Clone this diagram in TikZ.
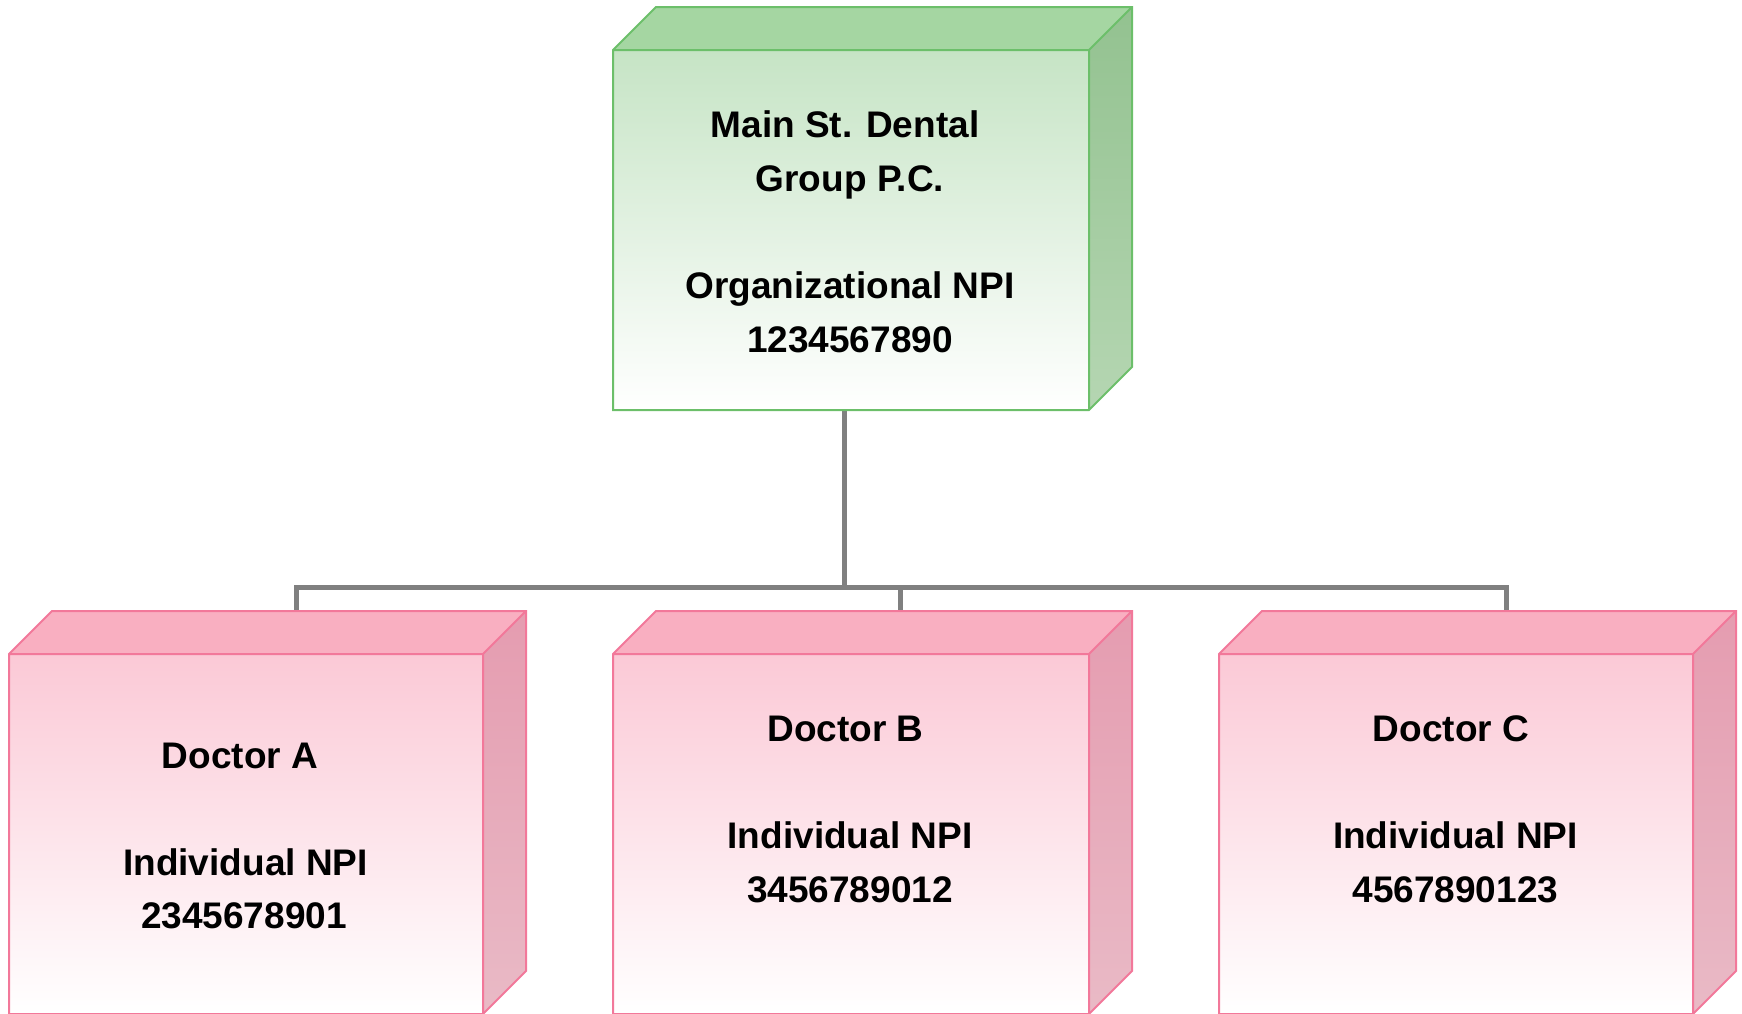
\documentclass[tikz,border=0pt]{standalone}
\usepackage{fontspec}
\setmainfont{Liberation Sans}
\definecolor{gstroke}{HTML}{6CBF6A}
\definecolor{gtop}{HTML}{A5D6A2}
\definecolor{gfront}{HTML}{C6E4C5}
\definecolor{gside1}{HTML}{93C290}
\definecolor{gside2}{HTML}{B5D6B2}
\definecolor{pstroke}{HTML}{F2789A}
\definecolor{ptop}{HTML}{F9AFC1}
\definecolor{pfront}{HTML}{FBC9D6}
\definecolor{pside1}{HTML}{E59CB0}
\definecolor{pside2}{HTML}{E9BAC6}
\definecolor{conncol}{HTML}{808080}
\tikzset{
  lbl/.style={anchor=base, inner sep=0pt, font=\fontsize{37}{44}\selectfont\bfseries, text=black},
  conn/.style={draw=conncol, line width=5pt, line join=miter},
}
% #1 left x, #2 right x, #3 top y, #4 bottom y, #5 colour prefix (g or p)
\newcommand\npicube[5]{%
  \shade[top color=#5front, bottom color=white] (#1,#3) rectangle (#2,#4);
  \fill[#5top] (#1,#3) -- (#1+43,#3-43) -- (#2+43,#3-43) -- (#2,#3) -- cycle;
  \shade[top color=#5side1, bottom color=#5side2] (#2,#3) -- (#2+43,#3-43) -- (#2+43,#4-43) -- (#2,#4) -- cycle;
  \draw[#5stroke, line width=2pt, line join=miter]
    (#1,#4) -- (#1,#3) -- (#1+43,#3-43) -- (#2+43,#3-43) -- (#2+43,#4-43) -- (#2,#4) -- cycle
    (#1,#3) -- (#2,#3) -- (#2+43,#3-43)
    (#2,#3) -- (#2,#4);
}
\begin{document}
\begin{tikzpicture}[x=1pt, y=-1pt]
\useasboundingbox (0,0) rectangle (1742,1013);

% connector end points
\coordinate (org) at (844,410);
\coordinate (docA) at (296,611);
\coordinate (docB) at (900,611);
\coordinate (docC) at (1506,611);
\draw[conn] (org) -- ++(0,177) coordinate (bus);
\draw[conn] (bus) -| (docA);
\draw[conn] (bus) -| (docB);
\draw[conn] (bus) -| (docC);

% boxes
\npicube{613}{1089}{50}{410}{g}
\npicube{9}{483}{654}{1014}{p}
\npicube{613}{1089}{654}{1014}{p}
\npicube{1219}{1693}{654}{1014}{p}

% texts
\node[lbl] (o1) at (845,137.6) {Main St. Dental};
\node[lbl] (o2) at (850,191) {Group P.C.};
\node[lbl] (o3) at (850,298.7) {Organizational NPI};
\node[lbl] (o4) at (850,352) {1234567890};

\node[lbl] (a1) at (240,768.5) {Doctor A};
\node[lbl] (a2) at (245.5,875) {Individual NPI};
\node[lbl] (a3) at (244,928.5) {2345678901};

\node[lbl] (b1) at (845.5,741) {Doctor B};
\node[lbl] (b2) at (850,848.7) {Individual NPI};
\node[lbl] (b3) at (850,902) {3456789012};

\node[lbl] (c1) at (1451,741) {Doctor C};
\node[lbl] (c2) at (1455.4,848.7) {Individual NPI};
\node[lbl] (c3) at (1455.4,902) {4567890123};
\end{tikzpicture}
\end{document}
